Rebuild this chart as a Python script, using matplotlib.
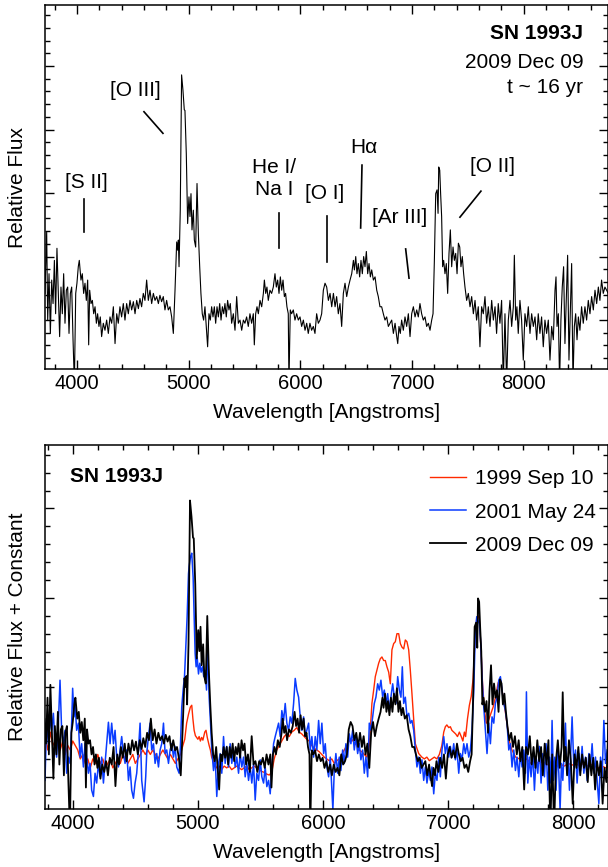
import matplotlib
matplotlib.use("Agg")
import matplotlib.pyplot as plt
from matplotlib.ticker import MultipleLocator, NullFormatter

plt.rcParams["font.family"] = ["Liberation Sans", "DejaVu Sans"]

# --- 2009 Dec 09 spectrum (top panel), wavelength [A] / relative flux ---
wave_2009 = [
    3714, 3729, 3738, 3750, 3762, 3774, 3786, 3798, 3809, 3821, 3833, 3845, 3857, 3869, 3881, 3893,
    3905, 3917, 3929, 3941, 3953, 3965, 3977, 3989, 4000, 4012, 4021, 4036, 4048, 4060, 4072, 4084,
    4096, 4105, 4114, 4126, 4138, 4150, 4162, 4174, 4185, 4197, 4209, 4221, 4236, 4251, 4266, 4281,
    4296, 4311, 4326, 4341, 4356, 4370, 4385, 4400, 4415, 4430, 4445, 4460, 4475, 4490, 4505, 4520,
    4535, 4550, 4564, 4579, 4594, 4609, 4624, 4639, 4654, 4669, 4684, 4699, 4714, 4729, 4743, 4758,
    4773, 4788, 4803, 4818, 4833, 4848, 4863, 4878, 4893, 4902, 4908, 4914, 4925, 4937, 4949, 4961,
    4967, 4979, 4991, 5003, 5012, 5021, 5030, 5042, 5051, 5063, 5075, 5087, 5099, 5110, 5122, 5134,
    5146, 5158, 5170, 5182, 5194, 5206, 5218, 5230, 5242, 5254, 5266, 5278, 5290, 5302, 5314, 5325,
    5337, 5349, 5361, 5373, 5385, 5400, 5415, 5430, 5445, 5460, 5475, 5490, 5504, 5519, 5534, 5549,
    5564, 5579, 5588, 5600, 5612, 5624, 5639, 5654, 5669, 5678, 5690, 5701, 5713, 5728, 5743, 5758,
    5773, 5785, 5797, 5809, 5821, 5833, 5845, 5857, 5868, 5880, 5892, 5898, 5910, 5922, 5937, 5952,
    5967, 5982, 5997, 6012, 6027, 6042, 6057, 6071, 6086, 6101, 6116, 6131, 6146, 6161, 6176, 6191,
    6206, 6221, 6236, 6251, 6266, 6281, 6296, 6311, 6325, 6340, 6355, 6370, 6385, 6400, 6415, 6430,
    6445, 6460, 6475, 6484, 6496, 6507, 6519, 6531, 6543, 6555, 6567, 6579, 6591, 6603, 6615, 6627,
    6639, 6654, 6669, 6684, 6698, 6713, 6728, 6743, 6758, 6773, 6788, 6803, 6818, 6833, 6848, 6863,
    6872, 6883, 6895, 6907, 6922, 6937, 6952, 6967, 6982, 6997, 7012, 7027, 7042, 7056, 7071, 7086,
    7101, 7116, 7131, 7146, 7161, 7176, 7188, 7200, 7212, 7224, 7233, 7239, 7248, 7256, 7265, 7274,
    7283, 7295, 7307, 7319, 7331, 7343, 7355, 7367, 7379, 7391, 7403, 7415, 7427, 7438, 7450, 7462,
    7474, 7489, 7504, 7519, 7534, 7549, 7564, 7578, 7593, 7608, 7623, 7638, 7653, 7668, 7683, 7698,
    7713, 7728, 7743, 7757, 7772, 7787, 7802, 7817, 7832, 7847, 7862, 7877, 7892, 7907, 7916, 7928,
    7939, 7951, 7966, 7981, 7996, 8011, 8026, 8041, 8056, 8071, 8086, 8101, 8116, 8130, 8145, 8160,
    8175, 8190, 8205, 8220, 8235, 8250, 8265, 8280, 8289, 8298, 8310, 8321, 8333, 8345, 8357, 8369,
    8384, 8393, 8405, 8417, 8429, 8441, 8453, 8465, 8477, 8489, 8503, 8518, 8533, 8548, 8563, 8578,
    8593, 8608, 8623, 8638, 8653, 8668, 8682, 8697, 8712, 8727, 8757,
]
flux_2009 = [
    1.42, 2.39, 1.00, 1.73, 0.79, 1.63, 1.26, 1.94, 1.10, 2.13, 1.42, 0.74, 1.52, 1.10, 1.73, 0.95,
    1.47, 1.52, 0.79, 1.42, 1.52, 0.69, 0.00, 1.42, 1.58, 1.84, 1.94, 1.63, 1.73, 1.42, 1.58, 1.31,
    1.63, 0.61, 1.47, 1.26, 1.31, 1.10, 1.21, 0.95, 1.10, 0.90, 1.05, 0.74, 0.95, 0.84, 1.00, 0.79,
    1.05, 0.95, 1.21, 0.63, 1.10, 0.95, 1.21, 1.05, 1.26, 1.00, 1.26, 1.10, 1.31, 1.16, 1.29, 1.10,
    1.31, 1.18, 1.34, 1.21, 1.42, 1.31, 1.63, 1.31, 1.47, 1.26, 1.42, 1.31, 1.37, 1.26, 1.39, 1.29,
    1.37, 1.16, 1.31, 1.16, 1.21, 1.05, 0.79, 1.47, 2.23, 2.10, 2.26, 1.84, 2.73, 4.86, 4.62, 4.31,
    4.30, 3.62, 2.52, 2.94, 2.63, 2.99, 2.42, 2.73, 2.26, 2.15, 3.15, 2.36, 1.84, 1.42, 1.10, 1.00,
    1.21, 0.90, 0.58, 1.10, 1.00, 1.21, 1.05, 1.21, 0.95, 1.21, 1.05, 1.26, 1.00, 1.21, 1.10, 1.26,
    1.05, 1.31, 1.16, 1.26, 0.95, 1.10, 0.84, 1.37, 0.95, 1.00, 0.84, 1.00, 0.95, 1.05, 0.90, 1.10,
    0.95, 1.10, 0.61, 1.10, 1.21, 1.10, 1.31, 1.21, 1.42, 1.63, 1.42, 1.52, 1.31, 1.47, 1.42, 1.52,
    1.73, 1.52, 1.63, 1.42, 1.68, 1.47, 1.63, 1.37, 1.42, 1.21, 1.10, 0.00, 1.16, 1.10, 1.16, 1.00,
    1.10, 1.00, 1.05, 0.90, 1.00, 0.84, 0.95, 0.79, 0.95, 0.84, 0.90, 0.79, 1.10, 0.95, 1.00, 1.10,
    1.47, 1.58, 1.52, 1.31, 1.42, 1.21, 1.42, 1.21, 1.37, 1.10, 1.26, 0.90, 1.42, 1.58, 1.37, 1.52,
    1.63, 1.73, 1.94, 1.79, 2.00, 1.73, 1.89, 1.68, 1.94, 1.73, 2.00, 1.84, 2.08, 1.73, 1.89, 1.68,
    1.79, 1.63, 1.68, 1.47, 1.37, 1.21, 1.21, 1.10, 1.00, 1.05, 0.90, 0.95, 1.00, 0.79, 0.95, 0.74,
    0.63, 0.90, 0.79, 1.00, 0.84, 1.05, 0.90, 1.10, 0.74, 1.10, 1.21, 1.05, 1.16, 1.05, 1.26, 1.10,
    1.00, 1.05, 0.90, 0.95, 0.84, 1.00, 1.10, 1.94, 2.99, 3.05, 2.68, 3.41, 3.36, 2.99, 2.63, 1.84,
    1.94, 1.73, 1.89, 1.42, 2.05, 2.42, 1.84, 2.15, 1.94, 2.05, 1.73, 2.21, 2.15, 1.84, 2.00, 1.73,
    1.52, 1.31, 1.42, 1.21, 1.37, 1.10, 1.31, 1.00, 1.21, 0.58, 1.21, 1.10, 1.37, 0.95, 1.21, 0.90,
    1.31, 1.00, 1.21, 0.79, 1.26, 0.95, 1.31, 0.00, 1.10, 0.00, 1.00, 1.31, 0.90, 1.21, 2.02, 1.00,
    1.21, 0.79, 1.31, 1.00, 0.37, 1.10, 0.90, 1.21, 0.79, 1.10, 0.90, 1.05, 0.69, 1.10, 0.79, 1.05,
    0.58, 1.00, 0.79, 1.00, 0.37, 0.90, 0.69, 1.47, 1.68, 0.90, 1.10, 0.00, 1.00, 1.52, 1.84, 0.63,
    1.47, 2.02, 0.37, 1.10, 1.89, 0.00, 0.90, 1.10, 0.69, 1.05, 0.84, 1.21, 0.95, 1.21, 1.00, 1.31,
    1.10, 1.37, 1.16, 1.47, 1.26, 1.52, 1.31, 1.63, 1.42, 1.52, 1.42,
]

# bottom panel: 2009 spectrum replotted with a scale and a constant
scale_2009 = 0.755
offset_2009 = 0.42

# --- 2001 May 24 ---
wave_2001 = [
    3778, 3791, 3805, 3818, 3831, 3845, 3858, 3871, 3885, 3898, 3911, 3925, 3938, 3951, 3965, 3978,
    3991, 3999, 4010, 4018, 4031, 4045, 4058, 4071, 4085, 4098, 4111, 4125, 4138, 4151, 4165, 4178,
    4191, 4205, 4218, 4231, 4245, 4258, 4271, 4285, 4298, 4311, 4325, 4338, 4351, 4365, 4378, 4391,
    4405, 4418, 4431, 4445, 4458, 4471, 4485, 4498, 4511, 4525, 4538, 4551, 4570, 4583, 4591, 4605,
    4618, 4631, 4645, 4658, 4671, 4685, 4698, 4711, 4725, 4738, 4751, 4765, 4778, 4791, 4805, 4818,
    4831, 4850, 4861, 4871, 4882, 4893, 4903, 4914, 4925, 4930, 4941, 4951, 4962, 4970, 4978, 4986,
    4994, 5005, 5015, 5026, 5037, 5047, 5058, 5069, 5079, 5090, 5101, 5111, 5125, 5138, 5151, 5165,
    5178, 5191, 5205, 5218, 5231, 5245, 5258, 5271, 5285, 5298, 5311, 5325, 5338, 5351, 5365, 5378,
    5391, 5405, 5418, 5431, 5445, 5458, 5471, 5485, 5498, 5511, 5525, 5538, 5551, 5565, 5578, 5591,
    5605, 5618, 5631, 5645, 5658, 5671, 5685, 5698, 5711, 5725, 5738, 5751, 5765, 5778, 5791, 5805,
    5818, 5831, 5845, 5858, 5871, 5885, 5898, 5911, 5925, 5938, 5951, 5965, 5978, 5991, 6005, 6018,
    6031, 6045, 6058, 6071, 6079, 6090, 6103, 6117, 6130, 6143, 6157, 6170, 6183, 6197, 6210, 6223,
    6237, 6250, 6263, 6277, 6290, 6303, 6317, 6330, 6343, 6357, 6370, 6383, 6397, 6410, 6423, 6437,
    6450, 6463, 6477, 6490, 6503, 6517, 6530, 6543, 6557, 6570, 6583, 6597, 6610, 6623, 6634, 6645,
    6658, 6671, 6685, 6698, 6711, 6725, 6738, 6751, 6765, 6778, 6791, 6805, 6818, 6831, 6845, 6858,
    6871, 6885, 6898, 6911, 6925, 6938, 6951, 6965, 6978, 6991, 7005, 7018, 7031, 7045, 7058, 7071,
    7085, 7098, 7111, 7125, 7138, 7151, 7165, 7178, 7191, 7205, 7218, 7229, 7239, 7250, 7261, 7271,
    7285, 7298, 7311, 7325, 7338, 7351, 7365, 7378, 7391, 7405, 7418, 7431, 7445, 7458, 7471, 7485,
    7498, 7511, 7525, 7538, 7551, 7565, 7578, 7591, 7605, 7618, 7626, 7637, 7650, 7663, 7677, 7690,
    7703, 7717, 7730, 7743, 7757, 7770, 7783, 7797, 7810, 7821, 7831, 7842, 7853, 7863, 7874, 7885,
    7895, 7906, 7917, 7927, 7938, 7949, 7959, 7970, 7981, 7991, 8005, 8018, 8031, 8045, 8058, 8071,
    8085, 8098, 8111, 8125, 8138, 8151, 8165, 8178, 8191, 8205, 8218, 8231, 8245, 8258, 8271,
]
flux_2001 = [
    0.96, 1.60, 1.37, 1.67, 1.52, 1.71, 1.37, 1.22, 1.60, 2.08, 1.52, 1.37, 1.52, 1.04, 1.22, 1.15,
    1.60, 1.99, 1.67, 1.82, 1.52, 1.60, 1.22, 1.37, 1.11, 1.37, 1.22, 1.04, 1.15, 0.85, 0.78, 1.04,
    0.93, 1.15, 1.00, 1.22, 0.93, 1.15, 1.37, 1.61, 1.37, 1.60, 1.37, 1.52, 1.22, 1.11, 1.30, 1.45,
    1.26, 1.15, 1.30, 0.96, 1.11, 0.85, 0.76, 0.93, 1.04, 1.30, 1.60, 0.96, 0.72, 1.00, 1.26, 1.45,
    1.60, 1.30, 1.37, 1.15, 1.26, 1.11, 1.30, 1.37, 1.60, 1.26, 1.30, 1.15, 1.30, 1.37, 1.22, 1.34,
    1.11, 1.04, 1.37, 1.78, 1.97, 2.12, 2.45, 2.79, 3.27, 3.35, 3.46, 3.50, 3.23, 2.79, 2.38, 2.23,
    2.34, 2.15, 2.27, 2.17, 2.23, 2.12, 2.19, 1.97, 2.45, 1.89, 1.60, 1.30, 1.07, 1.22, 0.78, 1.15,
    1.26, 1.04, 1.45, 1.15, 1.34, 1.11, 1.37, 1.15, 1.30, 1.11, 1.22, 1.04, 1.26, 1.11, 1.22, 1.00,
    1.15, 0.96, 1.11, 0.93, 1.15, 0.74, 1.04, 0.96, 1.19, 1.00, 0.93, 1.11, 0.89, 0.96, 0.81, 1.11,
    1.37, 1.45, 1.52, 1.60, 1.45, 1.74, 1.63, 1.82, 1.60, 1.52, 1.67, 1.60, 1.82, 2.10, 1.97, 1.89,
    1.67, 1.52, 1.67, 1.45, 1.52, 1.60, 1.30, 1.45, 1.22, 1.45, 1.30, 1.63, 1.37, 1.60, 1.26, 1.37,
    1.11, 1.00, 1.22, 0.85, 0.63, 1.07, 1.26, 1.04, 1.22, 1.07, 1.30, 1.15, 1.37, 1.22, 1.48, 1.37,
    1.52, 1.30, 1.45, 1.26, 1.37, 1.19, 1.30, 1.04, 1.22, 1.00, 1.60, 1.52, 1.67, 1.82, 1.89, 2.04,
    1.97, 2.08, 1.89, 1.97, 1.82, 1.93, 1.74, 1.89, 2.04, 1.89, 1.82, 2.12, 1.97, 1.89, 2.23, 1.82,
    1.89, 1.67, 1.71, 1.60, 1.63, 1.52, 1.30, 1.11, 1.22, 1.04, 1.19, 0.96, 1.11, 0.93, 1.07, 0.96,
    1.11, 0.81, 1.04, 0.96, 1.22, 1.00, 1.30, 1.45, 1.26, 1.37, 1.22, 1.34, 1.22, 1.37, 1.19, 1.30,
    1.04, 1.26, 1.19, 1.37, 1.26, 1.37, 1.22, 1.30, 1.52, 1.97, 2.64, 2.79, 2.75, 2.71, 2.49, 2.12,
    1.78, 1.52, 1.26, 1.60, 1.37, 1.67, 1.60, 1.82, 1.89, 2.08, 2.12, 1.97, 1.82, 1.74, 1.60, 1.30,
    1.37, 1.11, 1.30, 1.07, 1.22, 1.00, 1.26, 1.11, 1.30, 1.04, 1.95, 0.93, 1.22, 1.00, 1.26, 0.85,
    1.22, 1.04, 1.34, 0.93, 1.26, 1.00, 1.37, 0.85, 1.22, 0.93, 1.63, 0.96, 1.22, 0.85, 1.30, 1.04,
    0.63, 1.15, 0.96, 1.26, 1.60, 1.04, 1.22, 0.85, 1.30, 1.67, 1.11, 1.30, 0.93, 1.26, 1.07, 1.34,
    1.04, 1.22, 0.96, 1.26, 1.11, 1.37, 1.04, 1.22, 0.96, 0.70, 1.22, 1.00, 1.63, 1.15, 1.30,
]

# --- 1999 Sep 10 ---
wave_1999 = [
    3778, 3800, 3820, 3840, 3860, 3880, 3900, 3920, 3940, 3960, 3980, 4000, 4020, 4040, 4060, 4080,
    4100, 4120, 4140, 4160, 4180, 4200, 4220, 4240, 4260, 4280, 4300, 4320, 4340, 4360, 4380, 4400,
    4420, 4440, 4460, 4480, 4500, 4520, 4540, 4560, 4580, 4600, 4620, 4640, 4660, 4680, 4700, 4720,
    4740, 4760, 4780, 4800, 4820, 4840, 4860, 4880, 4895, 4910, 4925, 4940, 4951, 4960, 4970, 4980,
    4990, 5000, 5010, 5020, 5030, 5040, 5055, 5065, 5075, 5090, 5100, 5110, 5130, 5150, 5170, 5190,
    5210, 5230, 5250, 5270, 5290, 5310, 5330, 5350, 5370, 5390, 5410, 5430, 5450, 5470, 5490, 5510,
    5530, 5550, 5570, 5590, 5610, 5630, 5650, 5670, 5690, 5710, 5730, 5750, 5770, 5790, 5810, 5830,
    5850, 5870, 5890, 5910, 5930, 5950, 5970, 5990, 6010, 6030, 6050, 6070, 6090, 6110, 6130, 6150,
    6170, 6190, 6210, 6230, 6250, 6270, 6290, 6310, 6330, 6350, 6370, 6391, 6405, 6418, 6431, 6445,
    6458, 6471, 6485, 6498, 6511, 6525, 6538, 6551, 6565, 6578, 6591, 6605, 6618, 6631, 6645, 6658,
    6671, 6685, 6698, 6711, 6725, 6738, 6765, 6790, 6810, 6830, 6850, 6870, 6890, 6910, 6930, 6950,
    6965, 6978, 6990, 7005, 7018, 7030, 7045, 7060, 7075, 7090, 7105, 7118, 7130, 7140, 7155, 7170,
    7185, 7200, 7215, 7230, 7240, 7250, 7262, 7275, 7290, 7305, 7320, 7340, 7360, 7380, 7400, 7415,
    7430, 7450, 7470, 7490, 7510, 7540, 7570, 7600, 7630, 7660, 7690, 7720, 7750, 7780, 7810, 7840,
    7870, 7900, 7930, 7960, 7990, 8020, 8050, 8080, 8110, 8140, 8170, 8200, 8230, 8260, 8280,
]
flux_1999 = [
    1.45, 1.30, 1.50, 1.35, 1.40, 1.45, 1.30, 1.40, 1.25, 1.35, 1.30, 1.40, 1.35, 1.30, 1.20, 1.25,
    1.15, 1.20, 1.10, 1.20, 1.15, 1.25, 1.15, 1.20, 1.10, 1.15, 1.20, 1.10, 1.15, 1.20, 1.15, 1.25,
    1.20, 1.15, 1.20, 1.25, 1.15, 1.20, 1.25, 1.30, 1.25, 1.30, 1.25, 1.30, 1.25, 1.20, 1.25, 1.30,
    1.25, 1.20, 1.25, 1.20, 1.15, 1.20, 1.25, 1.35, 1.42, 1.60, 1.70, 1.78, 1.80, 1.65, 1.52, 1.46,
    1.44, 1.42, 1.45, 1.40, 1.44, 1.41, 1.50, 1.52, 1.44, 1.35, 1.30, 1.22, 1.15, 1.10, 1.12, 1.08,
    1.12, 1.10, 1.12, 1.08, 1.10, 1.12, 1.10, 1.08, 1.10, 1.12, 1.08, 1.10, 1.12, 1.10, 1.08, 1.06,
    1.05, 1.03, 1.02, 1.05, 1.20, 1.30, 1.35, 1.40, 1.45, 1.48, 1.45, 1.50, 1.52, 1.55, 1.50, 1.48,
    1.45, 1.42, 1.40, 1.35, 1.32, 1.30, 1.28, 1.25, 1.22, 1.20, 1.18, 1.20, 1.15, 1.18, 1.20, 1.25,
    1.30, 1.35, 1.40, 1.42, 1.38, 1.35, 1.30, 1.28, 1.25, 1.22, 1.35, 1.82, 1.97, 2.12, 2.19, 2.27,
    2.32, 2.34, 2.30, 2.30, 2.23, 2.17, 2.04, 2.42, 2.49, 2.51, 2.60, 2.60, 2.49, 2.45, 2.43, 2.53,
    2.51, 2.42, 2.19, 1.93, 1.63, 1.37, 1.26, 1.22, 1.20, 1.22, 1.18, 1.20, 1.22, 1.20, 1.25, 1.35,
    1.50, 1.56, 1.58, 1.55, 1.56, 1.52, 1.50, 1.48, 1.45, 1.50, 1.45, 1.40, 1.50, 1.45, 1.65, 1.80,
    1.90, 2.10, 2.55, 2.78, 2.80, 2.75, 2.45, 2.05, 1.75, 1.60, 1.62, 1.70, 1.78, 1.90, 2.05, 2.10,
    1.98, 1.80, 1.60, 1.40, 1.30, 1.22, 1.20, 1.18, 1.20, 1.15, 1.18, 1.15, 1.17, 1.15, 1.12, 1.15,
    1.12, 1.14, 1.12, 1.15, 1.13, 1.15, 1.12, 1.15, 1.12, 1.14, 1.12, 1.10, 1.12, 1.10, 1.12,
]

# line identifications: label, label position, marker segment (wavelength, flux)
line_ids = [
    ("[S II]", 4081, 3.16, (4065, 4065), (2.91, 2.39)),
    ("[O III]", 4520, 4.62, (4600, 4770), (4.28, 3.94)),
    ("He I/\nNa I", 5768, 3.23, (5809, 5809), (2.69, 2.13)),
    ("[O I]", 6221, 3.00, (6239, 6239), (2.64, 1.91)),
    ("H\u03b1", 6570, 3.72, (6552, 6540), (3.44, 2.45)),
    ("[Ar III]", 6892, 2.62, (6943, 6973), (2.12, 1.66)),
    ("[O II]", 7720, 3.41, (7617, 7429), (3.03, 2.62)),
]

FS = 15
RED = "#ff2a00"
BLUE = "#0a3cff"


def style_axes(ax):
    ax.xaxis.set_major_locator(MultipleLocator(1000))
    ax.xaxis.set_minor_locator(MultipleLocator(200))
    ax.yaxis.set_major_locator(MultipleLocator(1))
    ax.yaxis.set_minor_locator(MultipleLocator(0.2))
    ax.yaxis.set_major_formatter(NullFormatter())
    ax.tick_params(which="both", direction="in", top=True, right=True,
                   labelsize=14.5, width=1.0)
    ax.tick_params(which="major", length=6.5)
    ax.tick_params(which="minor", length=3.5)
    for s in ax.spines.values():
        s.set_linewidth(1.1)
    ax.set_xlabel("Wavelength [Angstroms]", fontsize=FS, labelpad=7)


fig = plt.figure(figsize=(6.08, 8.67), dpi=100)
ax1 = fig.add_axes([45 / 608, 1 - 369 / 867, 562.5 / 608, 364 / 867])
ax2 = fig.add_axes([45 / 608, 1 - 809 / 867, 562.5 / 608, 364 / 867])

# top panel
ax1.plot(wave_2009, flux_2009, color="black", lw=0.8)
ax1.set_xlim(3714, 8750)
ax1.set_ylim(0.23, 5.96)
style_axes(ax1)
ax1.set_ylabel("Relative Flux", fontsize=FS)
ax1.yaxis.set_label_coords(-0.032, 0.5)
for label, tx, ty, lx, ly in line_ids:
    ax1.text(tx, ty, label, fontsize=FS, ha="center", va="center",
             multialignment="center", linespacing=1.25)
    ax1.plot(lx, ly, color="black", lw=1.2)
ax1.text(0.957, 0.923, "SN 1993J", transform=ax1.transAxes, fontsize=FS,
         fontweight="bold", ha="right", va="center")
ax1.text(0.957, 0.843, "2009 Dec 09", transform=ax1.transAxes, fontsize=FS,
         ha="right", va="center")
ax1.text(0.957, 0.772, "t ~ 16 yr", transform=ax1.transAxes, fontsize=FS,
         ha="right", va="center")

# bottom panel
black_bottom = [scale_2009 * f + offset_2009 for f in flux_2009]
ax2.plot(wave_1999, flux_1999, color=RED, lw=1.0, label="1999 Sep 10")
ax2.plot(wave_2001, flux_2001, color=BLUE, lw=1.1, label="2001 May 24")
ax2.plot(wave_2009, black_bottom, color="black", lw=1.3, label="2009 Dec 09")
ax2.set_xlim(3778, 8274)
ax2.set_ylim(0.64, 4.71)
style_axes(ax2)
ax2.set_ylabel("Relative Flux + Constant", fontsize=FS)
ax2.yaxis.set_label_coords(-0.032, 0.5)
ax2.text(0.0445, 0.913, "SN 1993J", transform=ax2.transAxes, fontsize=FS,
         fontweight="bold", ha="left", va="center")
ax2.legend(loc="upper right", bbox_to_anchor=(0.979, 0.933), frameon=False,
           fontsize=FS, handlelength=1.75, handletextpad=0.4,
           labelspacing=0.68, borderpad=0, borderaxespad=0)

fig.savefig("out.png", dpi=100)
